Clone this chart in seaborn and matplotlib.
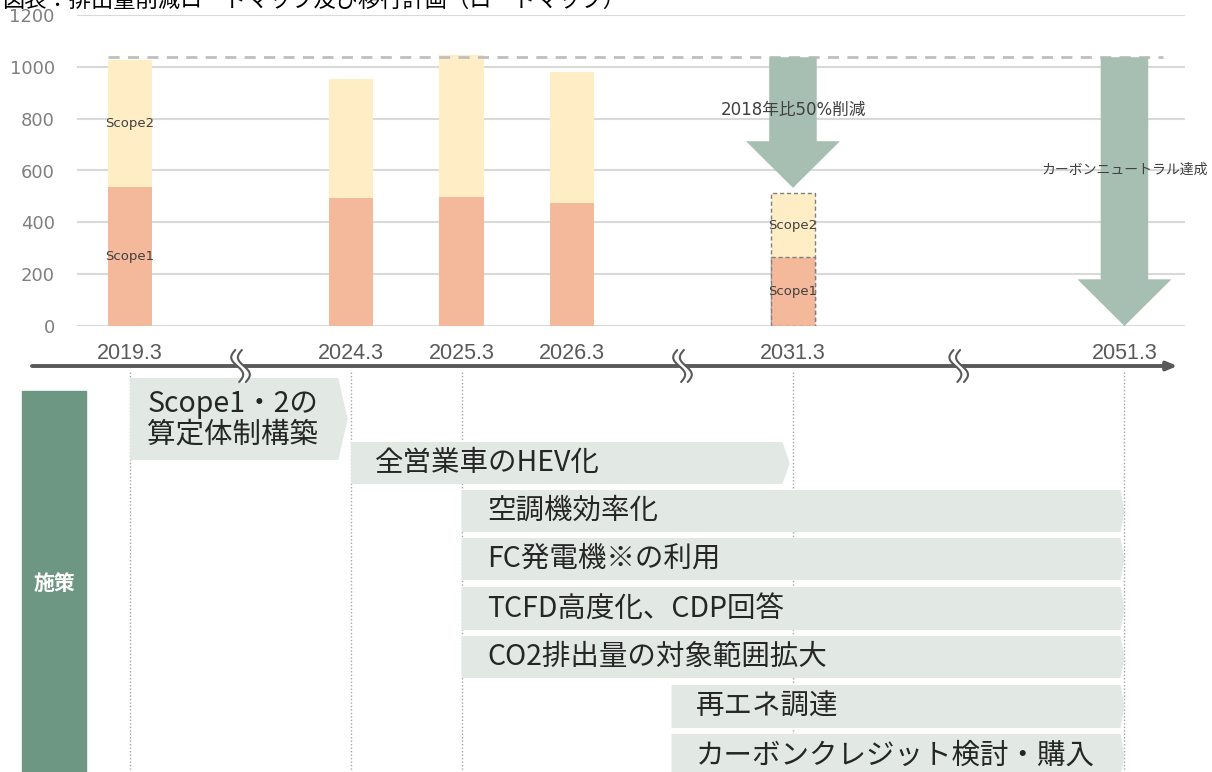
import numpy as np
import pandas as pd
import matplotlib
matplotlib.use("Agg")
import matplotlib.pyplot as plt
from matplotlib.patches import Polygon, Rectangle
import seaborn as sns

# ---- data ----
periods = ["2019.3", "2024.3", "2025.3", "2026.3", "2031.3", "2051.3"]
period_pos = [0, 2, 3, 4, 6, 9]          # uneven spacing, gaps are the ≈ breaks
breaks = [1, 5, 7.5]

bar_periods = ["2019.3", "2024.3", "2025.3", "2026.3", "2031.3"]
scope1 = [538, 493, 498, 475, 265]
scope2 = [489, 459, 548, 505, 247]
target_period = "2031.3"
label_periods = ["2019.3", "2031.3"]

base_level = 1037
arrow_periods = ["2031.3", "2051.3"]
arrow_tips = [533, 0]
arrow_texts = ["2018年比50%削減", "カーボンニュートラル達成"]
arrow_text_y = [833, 602]

tasks = ["Scope1・2の\n算定体制構築", "全営業車のHEV化", "空調機効率化", "FC発電機※の利用",
         "TCFD高度化、CDP回答", "CO2排出量の対象範囲拡大", "再エネ調達",
         "カーボンクレジット検討・購入"]
task_start = [0, 2, 3, 3, 3, 3, 4.9, 4.9]
task_end = [1.97, 5.97, 9, 9, 9, 9, 9, 9]
milestones = ["2019.3", "2024.3", "2025.3", "2031.3", "2051.3"]

title = "図表：排出量削減ロードマップ及び移行計画（ロードマップ）"

# ---- layout / style ----
C1 = "#F3B99A"
C2 = "#FFEEC5"
ARROW = "#A7BFB3"
TASK = "#E2E9E5"
GREEN = "#6E9783"
CJK = ["Noto Sans CJK JP", "DejaVu Sans"]

row_top = [378, 442, 490, 538, 587, 636, 685, 734]
row_h = [82, 42, 42, 42, 43, 42, 43, 43]
tip = [0.085, 0.065, 0.035, 0.035, 0.035, 0.035, 0.035, 0.035]
pad = [0.155, 0.22, 0.23, 0.23, 0.23, 0.23, 0.22, 0.22]

sns.set_style("white")
plt.rcParams["font.family"] = ["DejaVu Sans", "Noto Sans CJK JP"]

pos = dict(zip(periods, period_pos))
xlim = (-0.48, 9.548)

W, H = 1212, 772
fig = plt.figure(figsize=(W / 100, H / 100), dpi=100)
ax = fig.add_axes([77 / W, 1 - 326 / H, 1108 / W, 311 / H])
axb = fig.add_axes([77 / W, 0, 1108 / W, (H - 336) / H])

# ---- stacked bars ----
df = pd.DataFrame({"period": bar_periods, "scope1": scope1, "scope2": scope2})
df["x"] = df["period"].map(pos)
df["total"] = df["scope1"] + df["scope2"]

sns.barplot(data=df, x="x", y="total", native_scale=True, color=C2, saturation=1,
            width=0.4, linewidth=0, errorbar=None, ax=ax, zorder=2)
sns.barplot(data=df, x="x", y="scope1", native_scale=True, color=C1, saturation=1,
            width=0.4, linewidth=0, errorbar=None, ax=ax, zorder=2)

for p in ax.patches:
    if abs(p.get_x() + p.get_width() / 2 - pos[target_period]) < 0.01:
        p.set_edgecolor("#7F7F7F")
        p.set_linestyle((0, (3, 2)))
        p.set_linewidth(1)

for per in label_periods:
    r = df[df["period"] == per].iloc[0]
    ax.text(r["x"], r["scope1"] / 2, "Scope1", ha="center", va="center",
            fontsize=9.5, color="#404040", zorder=5)
    ax.text(r["x"], r["scope1"] + r["scope2"] / 2, "Scope2", ha="center", va="center",
            fontsize=9.5, color="#404040", zorder=5)

ax.hlines(base_level, -0.2, 9.35, colors="#BFBFBF", linestyles=(0, (4, 3)), lw=2, zorder=3)

for per, tip_y in zip(arrow_periods, arrow_tips):
    x = pos[per]
    ax.arrow(x, base_level, 0, tip_y - base_level, width=0.43, head_width=0.85,
             head_length=180, length_includes_head=True, color=ARROW, lw=0, zorder=3)
ax.text(pos[arrow_periods[0]], arrow_text_y[0], arrow_texts[0], ha="center", va="center",
        fontsize=12, color="#404040", zorder=5, family=["DejaVu Sans", "Noto Sans CJK JP"])
ax.text(pos[arrow_periods[1]], arrow_text_y[1], arrow_texts[1], ha="center", va="center",
        fontsize=10, color="#404040", zorder=5, family=CJK)

ax.set_ylim(0, 1200)
ax.set_yticks(range(0, 1201, 200))
ax.yaxis.grid(True, color="#D9D9D9", lw=1.5)
ax.xaxis.grid(False)
ax.set_axisbelow(True)
ax.set_xlim(*xlim)
ax.set_xticks(period_pos, periods)
ax.tick_params(axis="x", length=0, pad=12, labelsize=15.5, labelcolor="#595959")
ax.tick_params(axis="y", length=0, pad=16, labelsize=13, labelcolor="#7F7F7F")
for lab in ax.get_xticklabels():
    lab.set_fontfamily("Liberation Sans")
ax.set_xlabel("")
ax.set_ylabel("")
sns.despine(ax=ax, left=True, bottom=True)

# ---- timeline & measures ----
axb.set_xlim(*xlim)
axb.set_ylim(772, 336)
axb.axis("off")

axb.annotate("", xy=(9.48, 366), xytext=(-0.887, 366), annotation_clip=False,
             arrowprops=dict(arrowstyle="-|>,head_length=0.6,head_width=0.25",
                             color="#595959", lw=2.8, shrinkA=0, shrinkB=0))

t = np.linspace(0, 1, 60)
yy = 350 + 32 * t
for b in breaks:
    xc = b - 0.045 * np.sin(2 * np.pi * t) + 0.035 * (t - 0.5)
    axb.fill_betweenx(yy, xc - 0.03, xc + 0.03, color="white", lw=0, zorder=4)
    axb.plot(xc - 0.03, yy, color="#595959", lw=1.5, zorder=5)
    axb.plot(xc + 0.03, yy, color="#595959", lw=1.5, zorder=5)

axb.vlines([pos[m] for m in milestones], 372, 772, colors="#A6A6A6",
           linestyles=(0, (1, 1.5)), lw=1, zorder=1)

axb.add_patch(Rectangle((-0.977, 391), 0.579, 381, color=GREEN, clip_on=False, zorder=2))
axb.text(-0.6875, 583, "施策", ha="center", va="center", color="white",
         fontsize=15, fontweight="bold", family=CJK, zorder=3)

for i, name in enumerate(tasks):
    x0, x1 = task_start[i], task_end[i]
    top, bot = row_top[i], row_top[i] + row_h[i]
    d = tip[i]
    poly = [(x0, top), (x1 - d, top), (x1, (top + bot) / 2), (x1 - d, bot), (x0, bot)]
    axb.add_patch(Polygon(poly, closed=True, fc=TASK, ec="none", zorder=2, clip_on=False))
    axb.text(x0 + pad[i], (top + bot) / 2, name, ha="left", va="center", fontsize=20.5,
             color="#262626", linespacing=1.0, family=CJK, zorder=3)

# title is cropped at the top edge, as in the source image
fig.text(0.002, 1 - 7 / H, title, fontsize=16, va="baseline", ha="left",
         color="black", family=CJK)

fig.savefig("out.png", dpi=100)
